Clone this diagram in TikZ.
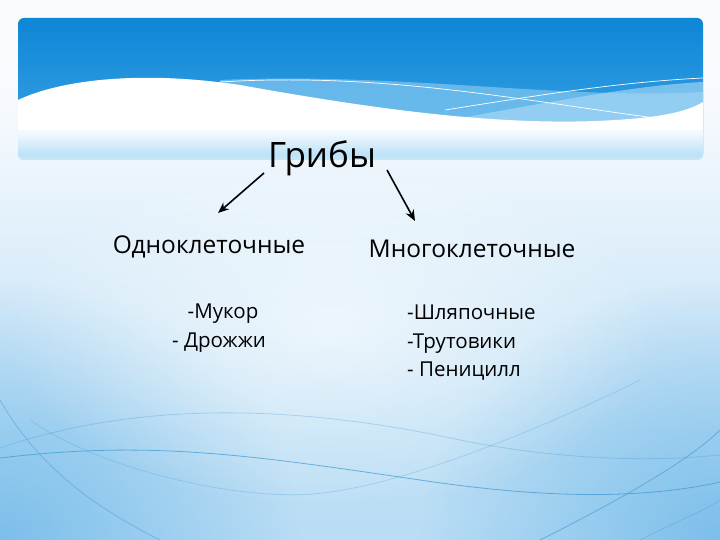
\documentclass[tikz,border=0pt]{standalone}
\usepackage{fontspec}
\setmainfont{Open Sans}
\usetikzlibrary{arrows.meta,fadings}
\definecolor{skyA}{HTML}{0E86D6}
\definecolor{skyB}{HTML}{3FA6E6}
\definecolor{bandC}{HTML}{7CC4F0}
\definecolor{paleD}{HTML}{F6FAFE}
\definecolor{bottomE}{HTML}{A8D5F2}
\definecolor{cornerG}{HTML}{6DB7E8}
\definecolor{lineF}{HTML}{3C98D2}
\tikzfading[name=softglow, inner color=transparent!0, outer color=transparent!100]
\pgfdeclareverticalshading{bgshade}{100bp}{color(0bp)=(bottomE); color(35bp)=(bottomE!70!paleD); color(65bp)=(paleD); color(100bp)=(white)}
\pgfdeclareverticalshading{hdrbottom}{100bp}{color(0bp)=(white!80!bandC); color(35bp)=(bandC!50!white); color(70bp)=(white!88!bandC); color(100bp)=(white)}
\tikzset{
  title/.style={font=\fontsize{35}{38}\selectfont, inner sep=0pt, anchor=base},
  head/.style={font=\fontsize{24.5}{28}\selectfont, inner sep=0pt, anchor=base},
  item/.style={font=\fontsize{20.5}{24}\selectfont, inner sep=0pt, anchor=base},
  itemw/.style={font=\fontsize{20.5}{24}\selectfont, inner sep=0pt, anchor=base west},
  arr/.style={-{Stealth[length=11pt,width=9pt]}, line width=1.6pt, black},
  thinline/.style={line width=0.8pt, lineF},
}
\begin{document}
\begin{tikzpicture}[x=1pt,y=-1pt]
\useasboundingbox (0,0) rectangle (720,540);
% slide background
\shade[shading=bgshade] (0,0) rectangle (720,540);
\fill[cornerG, path fading=softglow, opacity=0.8] (0,540) ellipse (300 and 260);
\fill[cornerG, path fading=softglow, opacity=0.8] (720,540) ellipse (300 and 260);
\fill[white, path fading=softglow, opacity=0.6] (330,330) ellipse (330 and 180);
% lower curved lines
\draw[thinline, opacity=0.7] (0,458) .. controls (150,440) and (250,455) .. (420,480) .. controls (540,498) and (640,500) .. (720,482);
\draw[thinline, opacity=0.3] (0,448) .. controls (140,400) and (300,405) .. (460,440) .. controls (560,460) and (650,462) .. (720,455);
\draw[thinline, opacity=0.45] (0,400) .. controls (40,470) and (100,510) .. (160,540);
\draw[thinline, opacity=0.25] (30,420) .. controls (100,470) and (250,505) .. (330,492) .. controls (420,480) and (560,420) .. (640,380);
\draw[thinline, opacity=0.6] (540,540) .. controls (620,500) and (690,460) .. (720,430);
\draw[thinline, opacity=0.3] (640,540) .. controls (680,520) and (705,510) .. (720,500);
% header
\begin{scope}
\clip[rounded corners=6pt] (18,18) rectangle (703,160);
\shade[top color=skyA, bottom color=skyB] (18,18) rectangle (703,160);
% lighter band
\fill[bandC, opacity=0.75] (220,80) .. controls (400,72) and (560,100) .. (703,92) -- (703,160) -- (220,160) -- cycle;
\fill[bandC!60!white, opacity=0.6] (450,120) .. controls (560,100) and (640,85) .. (703,82) -- (703,160) -- (450,160) -- cycle;
% white wave
\fill[white] (18,100) .. controls (60,80) and (140,70) .. (240,85) .. controls (380,110) and (520,130) .. (640,118) .. controls (670,115) and (690,110) .. (703,102) -- (703,160) -- (18,160) -- cycle;
\shade[shading=hdrbottom] (18,131) rectangle (703,160);
% white thin lines
\draw[white, line width=0.7pt] (220,82) .. controls (380,72) and (520,100) .. (655,118);
\draw[white, line width=0.7pt] (445,110) .. controls (540,95) and (620,82) .. (703,78);
\end{scope}
% text
\node[title] (grib) at (322,168) {Грибы};
\node[head] (odno) at (209,254) {Одноклеточные};
\node[head] (mnogo) at (472,258) {Многоклеточные};
\node[item] (mukor) at (223,318) {-Мукор};
\node[item] (drozh) at (219,347) {- Дрожжи};
\node[itemw] (shl) at (407,319) {-Шляпочные};
\node[itemw] (trut) at (407,348) {-Трутовики};
\node[itemw] (pen) at (407,376) {- Пеницилл};
% arrows
\coordinate (la) at (264,173);
\coordinate (lb) at (218,213);
\coordinate (ra) at (387,170);
\coordinate (rb) at (415,221);
\draw[arr] (la) -- (lb);
\draw[arr] (ra) -- (rb);
\end{tikzpicture}
\end{document}
